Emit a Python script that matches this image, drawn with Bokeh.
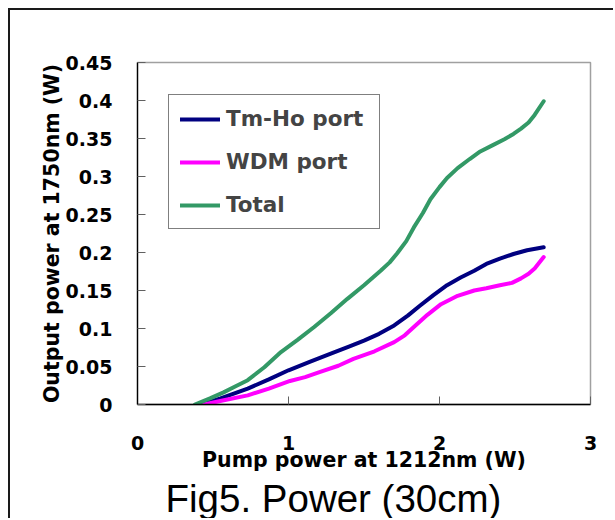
from bokeh.plotting import figure
from bokeh.models import Range1d, FixedTicker, Legend, LegendItem, Title, InlineStyleSheet
from bokeh.embed import file_html
from bokeh.resources import INLINE

# ---- data ----
x_ticks = [0, 1, 2, 3]
x_tick_labels = ["0", "1", "2", "3"]
y_ticks = [0, 0.05, 0.1, 0.15, 0.2, 0.25, 0.3, 0.35, 0.4, 0.45]
y_tick_labels = ["0", "0.05", "0.1", "0.15", "0.2", "0.25", "0.3", "0.35", "0.4", "0.45"]

series_names = ["Tm-Ho port", "WDM port", "Total"]

tmho_x = [0.42, 0.55, 0.73, 0.87, 1.0, 1.14, 1.28, 1.40, 1.50, 1.60, 1.70, 1.79, 1.87, 1.96, 2.05, 2.14, 2.23, 2.31, 2.40, 2.49, 2.58, 2.69]
tmho_y = [0.0, 0.008, 0.021, 0.033, 0.045, 0.056, 0.067, 0.076, 0.084, 0.093, 0.104, 0.117, 0.130, 0.144, 0.157, 0.167, 0.176, 0.185, 0.192, 0.198, 0.203, 0.207]

wdm_x = [0.44, 0.58, 0.73, 0.87, 1.01, 1.11, 1.21, 1.33, 1.43, 1.57, 1.70, 1.77, 1.83, 1.92, 2.01, 2.12, 2.23, 2.31, 2.40, 2.48, 2.54, 2.59, 2.63, 2.69]
wdm_y = [0.0, 0.006, 0.012, 0.021, 0.031, 0.036, 0.043, 0.051, 0.060, 0.070, 0.082, 0.091, 0.102, 0.118, 0.132, 0.143, 0.150, 0.153, 0.157, 0.160, 0.166, 0.172, 0.179, 0.194]

total_x = [0.38, 0.48, 0.57, 0.65, 0.73, 0.84, 0.95, 1.06, 1.17, 1.28, 1.39, 1.50, 1.61, 1.67, 1.72, 1.78, 1.83, 1.89, 1.94, 2.00, 2.05, 2.12, 2.20, 2.27, 2.35, 2.43, 2.49, 2.54, 2.59, 2.63, 2.69]
total_y = [0.0, 0.008, 0.016, 0.024, 0.032, 0.049, 0.069, 0.085, 0.102, 0.120, 0.139, 0.157, 0.176, 0.187, 0.199, 0.215, 0.233, 0.252, 0.270, 0.286, 0.298, 0.311, 0.323, 0.333, 0.341, 0.349, 0.356, 0.363, 0.371, 0.381, 0.399]

colors = ["#000080", "#FF00FF", "#339966"]
fig_title = "Fig5. Power (30cm)"

# ---- figure ----
p = figure(width=605, height=510, output_backend="svg", toolbar_location=None,
           x_range=Range1d(0, 3), y_range=Range1d(0, 0.45),
           min_border_left=127, min_border_right=25, min_border_top=52, min_border_bottom=116)
p.stylesheets = [InlineStyleSheet(css=":host { margin-left: 8px; margin-top: 8px; "
                                      "border-left: 2px solid #1a1a1a; border-top: 2px solid #1a1a1a; }")]
p.grid.visible = False
p.outline_line_color = "#a0a0a0"
p.outline_line_width = 1.5
p.background_fill_color = "white"
p.border_fill_color = "white"

FONT = "DejaVu Sans"

for ax in (p.xaxis[0], p.yaxis[0]):
    ax.axis_line_color = "black"
    ax.axis_line_width = 1.3
    ax.major_tick_in = 8
    ax.major_tick_out = 0
    ax.major_tick_line_color = "#606060"
    ax.minor_tick_line_color = None
    ax.major_label_text_font = FONT
    ax.major_label_text_font_style = "bold"
    ax.major_label_text_font_size = "19px"
    ax.major_label_text_color = "black"
    ax.axis_label_text_font = FONT
    ax.axis_label_text_font_style = "bold"
    ax.axis_label_text_font_size = "20.5px"
    ax.axis_label_text_color = "black"

p.xaxis.ticker = FixedTicker(ticks=x_ticks)
p.xaxis.major_label_overrides = dict(zip(x_ticks, x_tick_labels))
p.yaxis.ticker = FixedTicker(ticks=y_ticks)
p.yaxis.major_label_overrides = dict(zip(y_ticks, y_tick_labels))

p.xaxis.axis_label = "Pump power at 1212nm (W)"
p.yaxis.axis_label = "Output power at 1750nm (W)"
p.xaxis.major_label_standoff = 31
p.xaxis.axis_label_standoff = -5
p.yaxis.major_label_standoff = 25
p.yaxis.axis_label_standoff = -1

renderers = []
for xs, ys, c in [(tmho_x, tmho_y, colors[0]), (wdm_x, wdm_y, colors[1]), (total_x, total_y, colors[2])]:
    r = p.line(xs, ys, line_color=c, line_width=4, line_join="round", line_cap="round")
    renderers.append(r)

legend = Legend(items=[LegendItem(label=n, renderers=[r]) for n, r in zip(series_names, renderers)],
                location=(31, 175))
legend.border_line_color = "black"
legend.border_line_width = 1
legend.background_fill_color = "white"
legend.background_fill_alpha = 1
legend.label_text_font = FONT
legend.label_text_font_style = "bold"
legend.label_text_font_size = "21.5px"
legend.label_standoff = 6
legend.label_width = 142
legend.glyph_width = 40
legend.glyph_height = 20
legend.padding = 11
legend.spacing = 18
legend.margin = 0
p.add_layout(legend)

p.add_layout(Title(text=fig_title, align="left", offset=28, standoff=0,
                   text_font="Liberation Sans", text_font_style="normal", text_font_size="38.5px",
                   text_color="black"), "below")

open("out.html", "w").write(file_html(p, INLINE))
